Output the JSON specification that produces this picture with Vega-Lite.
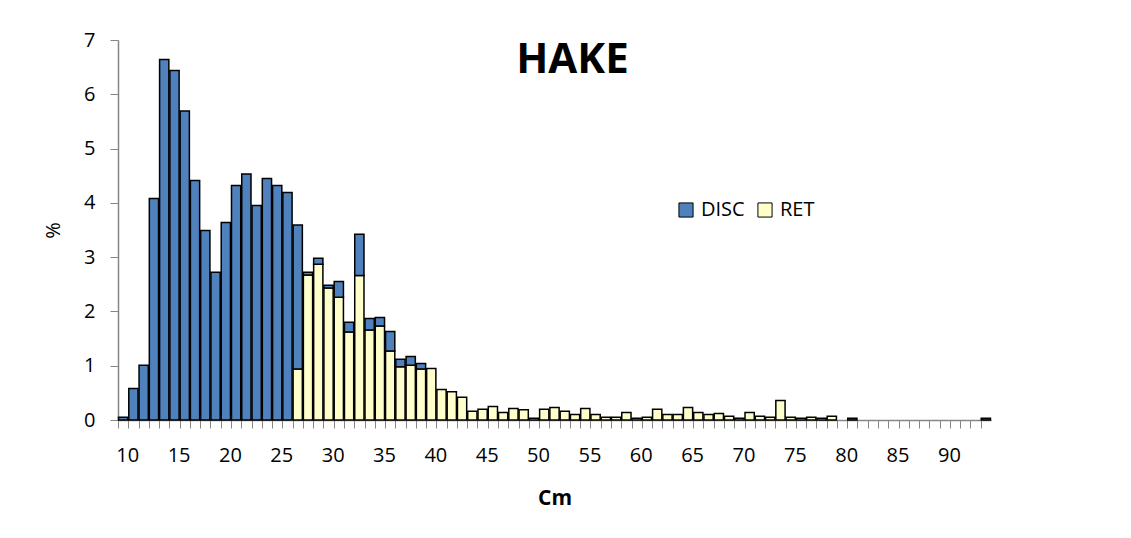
{
  "$schema": "https://vega.github.io/schema/vega-lite/v6.json",
  "width": 873,
  "height": 380,
  "autosize": {"type": "none"},
  "padding": {"left": 118, "top": 40, "right": 140, "bottom": 118},
  "background": "white",
  "title": {"text": "HAKE", "font": "Open Sans", "fontSize": 42, "fontWeight": "bold", "color": "#000000", "anchor": "middle", "frame": "group", "dx": 18, "dy": 40, "offset": -45, "baseline": "alphabetic"},
  "data": {
    "values": [
      {"cm": 10, "type": "DISC", "pct": 0.05},
      {"cm": 11, "type": "DISC", "pct": 0.58},
      {"cm": 12, "type": "DISC", "pct": 1.01},
      {"cm": 13, "type": "DISC", "pct": 4.08},
      {"cm": 14, "type": "DISC", "pct": 6.64},
      {"cm": 15, "type": "DISC", "pct": 6.44},
      {"cm": 16, "type": "DISC", "pct": 5.69},
      {"cm": 17, "type": "DISC", "pct": 4.41},
      {"cm": 18, "type": "DISC", "pct": 3.49},
      {"cm": 19, "type": "DISC", "pct": 2.72},
      {"cm": 20, "type": "DISC", "pct": 3.64},
      {"cm": 21, "type": "DISC", "pct": 4.32},
      {"cm": 22, "type": "DISC", "pct": 4.53},
      {"cm": 23, "type": "DISC", "pct": 3.95},
      {"cm": 24, "type": "DISC", "pct": 4.45},
      {"cm": 25, "type": "DISC", "pct": 4.32},
      {"cm": 26, "type": "DISC", "pct": 4.19},
      {"cm": 27, "type": "RET", "pct": 0.94},
      {"cm": 27, "type": "DISC", "pct": 2.65},
      {"cm": 28, "type": "RET", "pct": 2.67},
      {"cm": 28, "type": "DISC", "pct": 0.05},
      {"cm": 29, "type": "RET", "pct": 2.87},
      {"cm": 29, "type": "DISC", "pct": 0.11},
      {"cm": 30, "type": "RET", "pct": 2.43},
      {"cm": 30, "type": "DISC", "pct": 0.05},
      {"cm": 31, "type": "RET", "pct": 2.26},
      {"cm": 31, "type": "DISC", "pct": 0.29},
      {"cm": 32, "type": "RET", "pct": 1.62},
      {"cm": 32, "type": "DISC", "pct": 0.18},
      {"cm": 33, "type": "RET", "pct": 2.66},
      {"cm": 33, "type": "DISC", "pct": 0.76},
      {"cm": 34, "type": "RET", "pct": 1.66},
      {"cm": 34, "type": "DISC", "pct": 0.21},
      {"cm": 35, "type": "RET", "pct": 1.73},
      {"cm": 35, "type": "DISC", "pct": 0.16},
      {"cm": 36, "type": "RET", "pct": 1.27},
      {"cm": 36, "type": "DISC", "pct": 0.36},
      {"cm": 37, "type": "RET", "pct": 0.98},
      {"cm": 37, "type": "DISC", "pct": 0.14},
      {"cm": 38, "type": "RET", "pct": 1.01},
      {"cm": 38, "type": "DISC", "pct": 0.16},
      {"cm": 39, "type": "RET", "pct": 0.94},
      {"cm": 39, "type": "DISC", "pct": 0.10},
      {"cm": 40, "type": "RET", "pct": 0.95},
      {"cm": 41, "type": "RET", "pct": 0.56},
      {"cm": 42, "type": "RET", "pct": 0.52},
      {"cm": 43, "type": "RET", "pct": 0.42},
      {"cm": 44, "type": "RET", "pct": 0.16},
      {"cm": 45, "type": "RET", "pct": 0.20},
      {"cm": 46, "type": "RET", "pct": 0.25},
      {"cm": 47, "type": "RET", "pct": 0.14},
      {"cm": 48, "type": "RET", "pct": 0.21},
      {"cm": 49, "type": "RET", "pct": 0.19},
      {"cm": 50, "type": "RET", "pct": 0.03},
      {"cm": 51, "type": "RET", "pct": 0.20},
      {"cm": 52, "type": "RET", "pct": 0.23},
      {"cm": 53, "type": "RET", "pct": 0.16},
      {"cm": 54, "type": "RET", "pct": 0.10},
      {"cm": 55, "type": "RET", "pct": 0.21},
      {"cm": 56, "type": "RET", "pct": 0.10},
      {"cm": 57, "type": "RET", "pct": 0.05},
      {"cm": 58, "type": "RET", "pct": 0.05},
      {"cm": 59, "type": "RET", "pct": 0.14},
      {"cm": 60, "type": "RET", "pct": 0.03},
      {"cm": 61, "type": "RET", "pct": 0.05},
      {"cm": 62, "type": "RET", "pct": 0.20},
      {"cm": 63, "type": "RET", "pct": 0.10},
      {"cm": 64, "type": "RET", "pct": 0.10},
      {"cm": 65, "type": "RET", "pct": 0.23},
      {"cm": 66, "type": "RET", "pct": 0.14},
      {"cm": 67, "type": "RET", "pct": 0.10},
      {"cm": 68, "type": "RET", "pct": 0.12},
      {"cm": 69, "type": "RET", "pct": 0.07},
      {"cm": 70, "type": "RET", "pct": 0.03},
      {"cm": 71, "type": "RET", "pct": 0.14},
      {"cm": 72, "type": "RET", "pct": 0.07},
      {"cm": 73, "type": "RET", "pct": 0.05},
      {"cm": 74, "type": "RET", "pct": 0.36},
      {"cm": 75, "type": "RET", "pct": 0.05},
      {"cm": 76, "type": "RET", "pct": 0.03},
      {"cm": 77, "type": "RET", "pct": 0.05},
      {"cm": 78, "type": "RET", "pct": 0.03},
      {"cm": 79, "type": "RET", "pct": 0.07},
      {"cm": 81, "type": "DISC", "pct": 0.03},
      {"cm": 94, "type": "DISC", "pct": 0.03}
    ]
  },
  "mark": {"type": "bar", "stroke": "#000000", "strokeWidth": 1.5},
  "encoding": {
    "x": {
      "field": "cm",
      "type": "ordinal",
      "scale": {
        "domain": [10,11,12,13,14,15,16,17,18,19,20,21,22,23,24,25,26,27,28,29,30,31,32,33,34,35,36,37,38,39,40,41,42,43,44,45,46,47,48,49,50,51,52,53,54,55,56,57,58,59,60,61,62,63,64,65,66,67,68,69,70,71,72,73,74,75,76,77,78,79,80,81,82,83,84,85,86,87,88,89,90,91,92,93,94],
        "paddingInner": 0.1,
        "paddingOuter": 0.05
      },
      "axis": {
        "title": "Cm",
        "titleFont": "Open Sans",
        "titleFontSize": 21,
        "titleFontWeight": "bold",
        "titleColor": "#000000",
        "titlePadding": 22,
        "labelExpr": "datum.value % 5 == 0 ? datum.label : ''",
        "labelAngle": 0,
        "labelOverlap": false,
        "labelFont": "Open Sans",
        "labelFontSize": 20,
        "labelColor": "#000000",
        "labelPadding": 17,
        "labelOffset": 4.6,
        "bandPosition": 0,
        "tickSize": 8,
        "tickColor": "#868686",
        "tickWidth": 1,
        "domainColor": "#868686",
        "domainWidth": 1.5
      }
    },
    "y": {
      "field": "pct",
      "type": "quantitative",
      "stack": "zero",
      "scale": {"domain": [0, 7], "nice": false},
      "axis": {
        "title": "%",
        "titleFont": "Open Sans",
        "titleFontSize": 20,
        "titleFontWeight": "normal",
        "titleColor": "#000000",
        "titlePadding": 20,
        "values": [0,1,2,3,4,5,6,7],
        "grid": false,
        "labelFont": "Open Sans",
        "labelFontSize": 20,
        "labelColor": "#000000",
        "labelPadding": 15,
        "tickSize": 8,
        "tickColor": "#868686",
        "domainColor": "#868686",
        "domainWidth": 1.5
      }
    },
    "color": {
      "field": "type",
      "type": "nominal",
      "scale": {"domain": ["DISC", "RET"], "range": ["#4F81BD", "#FFFFCC"]},
      "legend": {
        "title": null,
        "orient": "none",
        "legendX": 558,
        "legendY": 160,
        "direction": "horizontal",
        "symbolType": "square",
        "symbolSize": 200,
        "symbolStrokeColor": "#000000",
        "symbolStrokeWidth": 1,
        "labelFont": "Open Sans",
        "labelFontSize": 20,
        "labelColor": "#000000",
        "labelOffset": 5,
        "columnPadding": 10
      }
    },
    "order": {"field": "type", "sort": "descending"}
  },
  "config": {"view": {"stroke": null}}
}
